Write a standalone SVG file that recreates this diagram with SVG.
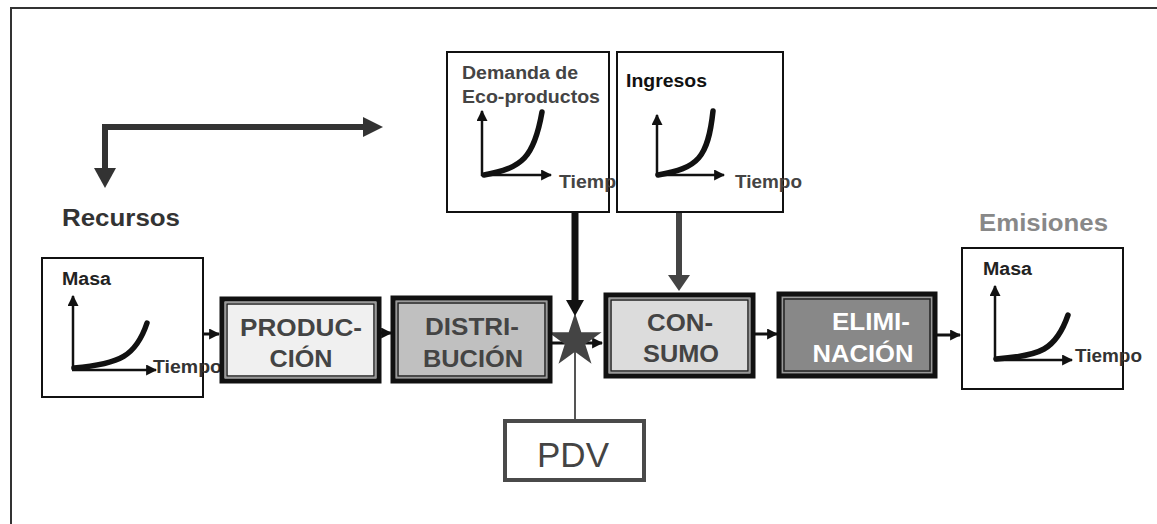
<svg xmlns="http://www.w3.org/2000/svg" width="1157" height="524" viewBox="0 0 1157 524">
<defs>
<style>
text{font-family:"Liberation Sans",Arial,sans-serif;font-weight:bold}
.lbl{font-size:18px}
.big{font-size:23px}
.box{font-size:24px;text-anchor:middle}
.axis{stroke:#111;stroke-width:2.5;fill:none}
.curve{stroke:#111;stroke-width:5.5;fill:none;stroke-linecap:round}
.conn{stroke:#111;stroke-width:3;fill:none}
.frame{fill:#fff;stroke:#111;stroke-width:2}
.outer{fill:none;stroke:#111;stroke-width:5}
.mid{fill:none;stroke:#999;stroke-width:1}
</style>
<marker id="ah" viewBox="0 0 10 10" refX="9" refY="5" markerUnits="userSpaceOnUse" markerWidth="11" markerHeight="11" orient="auto">
<path d="M0,0 L10,5 L0,10 z" fill="#111"/>
</marker>
</defs>
<rect width="1157" height="524" fill="#fff"/>
<path d="M11,524 L11,8 L1157,8" fill="none" stroke="#333" stroke-width="2"/>

<g id="connectors">
<path d="M105,168 L105,127 L365,127" fill="none" stroke="#333" stroke-width="6"/>
<polygon points="363,117 383,127 363,137" fill="#333"/>
<polygon points="94,168 116,168 105,188" fill="#333"/>
<line class="conn" x1="198" y1="334" x2="219" y2="334" marker-end="url(#ah)"/>
<line class="conn" x1="381" y1="333" x2="391" y2="333" marker-end="url(#ah)"/>
<line class="conn" x1="552" y1="343" x2="602" y2="343" marker-end="url(#ah)"/>
<line class="conn" x1="755" y1="334" x2="777" y2="334" marker-end="url(#ah)"/>
<line class="conn" x1="937" y1="335" x2="960" y2="335" marker-end="url(#ah)"/>
<line x1="575" y1="341" x2="575" y2="420" stroke="#555" stroke-width="2"/>
<line x1="575" y1="212" x2="575" y2="302" stroke="#111" stroke-width="7"/>
<line x1="679" y1="212" x2="679" y2="277" stroke="#444" stroke-width="6"/>
<polygon points="668,275 690,275 679,291" fill="#444"/>
</g>

<g id="star">
<polygon points="575,313 581.3,332.3 601.6,332.3 585.2,344.3 591.5,363.7 575,351.7 558.5,363.7 564.8,344.3 548.4,332.3 568.7,332.3" fill="#444"/>
<polygon points="566,300 584,300 575,316" fill="#111"/>
</g>

<g id="recursos">
<text class="big" x="62" y="226" fill="#333" textLength="118" lengthAdjust="spacingAndGlyphs">Recursos</text>
</g>

<g id="graph-recursos">
<rect class="frame" x="42" y="258" width="161" height="139" stroke-width="1.5"/>
<text class="lbl" x="62" y="285" fill="#222" textLength="49" lengthAdjust="spacingAndGlyphs">Masa</text>
<line class="axis" x1="73" y1="370" x2="73" y2="296" marker-end="url(#ah)"/>
<line class="axis" x1="72" y1="370" x2="156" y2="370" marker-end="url(#ah)"/>
<path class="curve" d="M74,368 C120,364 136,356 147,323"/>
<text class="lbl" x="153" y="373" fill="#333" textLength="69" lengthAdjust="spacingAndGlyphs">Tiempo</text>
</g>

<g id="produccion">
<rect x="222" y="299" width="157" height="82" fill="#f0f0f0"/>
<rect class="outer" x="222" y="299" width="157" height="82"/>
<rect class="mid" x="225.5" y="302.5" width="150" height="75"/>
<rect x="227" y="304" width="147" height="72" fill="none" stroke="#222" stroke-width="1.5"/>
<text class="box" x="301" y="336" fill="#444" textLength="122" lengthAdjust="spacingAndGlyphs">PRODUC-</text>
<text class="box" x="301" y="367" fill="#444" textLength="63" lengthAdjust="spacingAndGlyphs">CIÓN</text>
</g>

<g id="distribucion">
<rect x="393" y="298" width="157" height="83" fill="#c0c0c0"/>
<rect class="outer" x="393" y="298" width="157" height="83"/>
<rect class="mid" x="396.5" y="301.5" width="150" height="76"/>
<rect x="398" y="303" width="147" height="73" fill="none" stroke="#222" stroke-width="1.5"/>
<text class="box" x="472" y="335" fill="#444" textLength="94" lengthAdjust="spacingAndGlyphs">DISTRI-</text>
<text class="box" x="473" y="367" fill="#444" textLength="100" lengthAdjust="spacingAndGlyphs">BUCIÓN</text>
</g>

<g id="consumo">
<rect x="606" y="295" width="147" height="81" fill="#dcdcdc"/>
<rect class="outer" x="606" y="295" width="147" height="81"/>
<rect class="mid" x="609.5" y="298.5" width="140" height="74"/>
<rect x="611" y="300" width="137" height="71" fill="none" stroke="#222" stroke-width="1.5"/>
<text class="box" x="680" y="331" fill="#444" textLength="66" lengthAdjust="spacingAndGlyphs">CON-</text>
<text class="box" x="681" y="362" fill="#444" textLength="76" lengthAdjust="spacingAndGlyphs">SUMO</text>
</g>

<g id="eliminacion">
<rect x="779" y="294" width="156" height="82" fill="#888"/>
<rect class="outer" x="779" y="294" width="156" height="82"/>
<rect class="mid" x="782.5" y="297.5" width="149" height="75"/>
<rect x="784" y="299" width="146" height="72" fill="none" stroke="#222" stroke-width="1.5"/>
<text class="box" x="871" y="330" fill="#fff" textLength="78" lengthAdjust="spacingAndGlyphs">ELIMI-</text>
<text class="box" x="863" y="362" fill="#fff" textLength="101" lengthAdjust="spacingAndGlyphs">NACIÓN</text>
</g>

<g id="emisiones">
<text class="big" x="979" y="231" fill="#888" textLength="129" lengthAdjust="spacingAndGlyphs">Emisiones</text>
</g>

<g id="graph-emisiones">
<rect class="frame" x="962" y="248" width="161" height="141" stroke-width="1.5"/>
<text class="lbl" x="983" y="275" fill="#222" textLength="49" lengthAdjust="spacingAndGlyphs">Masa</text>
<line class="axis" x1="995" y1="360" x2="995" y2="286" marker-end="url(#ah)"/>
<line class="axis" x1="994" y1="360" x2="1072" y2="360" marker-end="url(#ah)"/>
<path class="curve" d="M996,359 C1040,356 1056,350 1068,315"/>
<text class="lbl" x="1075" y="362" fill="#333" textLength="67" lengthAdjust="spacingAndGlyphs">Tiempo</text>
</g>

<g id="graph-demanda">
<rect class="frame" x="447" y="52" width="162" height="160" stroke-width="1.5"/>
<text class="lbl" x="462" y="79" fill="#444" textLength="116" lengthAdjust="spacingAndGlyphs">Demanda de</text>
<text class="lbl" x="462" y="103" fill="#444" textLength="138" lengthAdjust="spacingAndGlyphs">Eco-productos</text>
<line class="axis" x1="482" y1="176" x2="482" y2="111" marker-end="url(#ah)"/>
<line class="axis" x1="481" y1="175" x2="551" y2="175" marker-end="url(#ah)"/>
<path class="curve" d="M484,175 C522,168 534,158 542,112"/>
<text class="lbl" x="559" y="188" fill="#444" textLength="69" lengthAdjust="spacingAndGlyphs">Tiempo</text>
</g>

<g id="graph-ingresos">
<rect class="frame" x="617" y="52" width="166" height="160" stroke-width="1.5"/>
<text class="lbl" x="626" y="87" fill="#111" textLength="81" lengthAdjust="spacingAndGlyphs">Ingresos</text>
<line class="axis" x1="657" y1="176" x2="657" y2="115" marker-end="url(#ah)"/>
<line class="axis" x1="656" y1="175" x2="724" y2="175" marker-end="url(#ah)"/>
<path class="curve" d="M658,175 C698,168 708,158 713,111" stroke="#333"/>
<text class="lbl" x="735" y="188" fill="#444" textLength="67" lengthAdjust="spacingAndGlyphs">Tiempo</text>
</g>

<g id="pdv">
<rect x="505" y="421" width="139" height="59" fill="#fff" stroke="#4a4a4a" stroke-width="4"/>
<text x="573" y="467" fill="#444" style="font-weight:normal;font-size:35px;text-anchor:middle">PDV</text>
</g>
</svg>
